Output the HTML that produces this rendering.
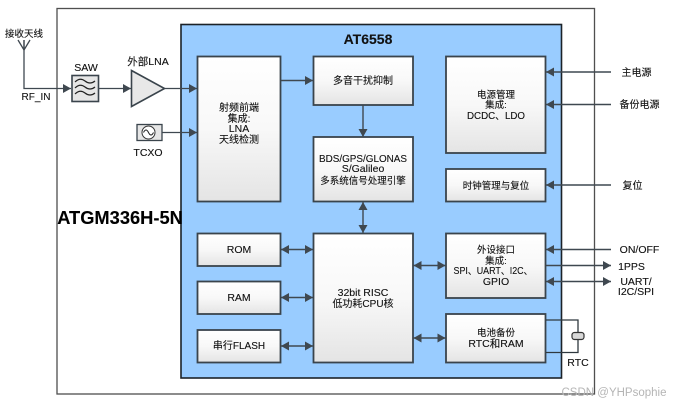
<!DOCTYPE html>
<html><head><meta charset="utf-8">
<style>
html,body{margin:0;padding:0;background:#fff}
svg{display:block}
text{font-family:"Liberation Sans","Noto Sans CJK SC",sans-serif;fill:#111;stroke:#111;stroke-width:.12;font-size:10.5px;text-anchor:middle}
.b{fill:url(#g);stroke:#3a444c;stroke-width:1.8}
.l{stroke:#3f4850;stroke-width:1.4;fill:none}
.t{stroke:#3f4850;stroke-width:1.3;fill:none}
</style></head><body>
<svg width="675" height="405" viewBox="0 0 675 405" xmlns="http://www.w3.org/2000/svg">
<defs>
<linearGradient id="g" x1="0" y1="0" x2="0" y2="1"><stop offset="0" stop-color="#ffffff"/><stop offset=".5" stop-color="#f8f8f8"/><stop offset="1" stop-color="#e4e4e4"/></linearGradient>
<marker id="a" markerWidth="9" markerHeight="9" refX="8" refY="4.500" orient="auto-start-reverse" markerUnits="userSpaceOnUse"><path d="M0 0L8 4.500L0 9z" fill="#3f4850"/></marker>
</defs>
<rect x="57" y="8.500" width="537.500" height="385.500" fill="#fff" stroke="#4f4f4f" stroke-width="1.300"/>
<rect x="181" y="24.500" width="380.500" height="353.500" fill="#99ccff" stroke="#1c2228" stroke-width="1.600"/>

<rect class="b" x="197.500" y="56.500" width="83" height="145"/>
<rect class="b" x="313.500" y="56.500" width="99.500" height="48.500"/>
<rect class="b" x="313.500" y="137" width="99.500" height="64.500"/>
<rect class="b" x="446" y="56.500" width="99.500" height="96.500"/>
<rect class="b" x="446" y="169" width="99.500" height="32.500"/>
<rect class="b" x="446" y="233.500" width="99.500" height="64.500"/>
<rect class="b" x="446" y="314" width="99.500" height="48.500"/>
<rect class="b" x="197.500" y="233.500" width="83" height="32.500"/>
<rect class="b" x="197.500" y="281.500" width="83" height="32.500"/>
<rect class="b" x="197.500" y="330" width="83" height="32.500"/>
<rect class="b" x="313.500" y="233.500" width="99.500" height="129"/>

<!-- antenna -->
<path class="t" d="M24 40L24 88.500L71 88.500" marker-end="url(#a)"/>
<path class="t" d="M18 40L24 50L30 40M24 40L24 50"/>
<!-- SAW -->
<rect x="72" y="75.500" width="26.500" height="26" fill="#e6e6e6" stroke="#3a444c" stroke-width="1.600"/>
<path d="M75 82q5-5 10-1t10 0M75 88q5-5 10-1t10 0M75 94q5-5 10-1t10 0" fill="none" stroke="#222" stroke-width="1.200"/>
<path class="t" d="M98 88.500L131 88.500" marker-end="url(#a)"/>
<!-- LNA -->
<path d="M131.500 70.500L164.500 88.500L131.500 106.500z" fill="#e8e8e8" stroke="#3a444c" stroke-width="1.600"/>
<path class="t" d="M164 88.500L197 88.500" marker-end="url(#a)"/>
<!-- TCXO -->
<rect x="137" y="124.500" width="25" height="16" fill="#e6e6e6" stroke="#3a444c" stroke-width="1.300"/>
<circle cx="148.500" cy="132.500" r="6.500" fill="#fff" stroke="#333"/>
<path d="M143.500 132.500q2.500-5 5 0t5 0" fill="none" stroke="#222"/>
<path class="t" d="M162 132.500L197 132.500" marker-end="url(#a)"/>

<!-- internal -->
<path class="l" d="M281 80.500L313 80.500" marker-end="url(#a)"/>
<path class="l" d="M363 105L363 137" marker-end="url(#a)"/>
<path class="l" d="M363 202L363 233" marker-start="url(#a)" marker-end="url(#a)"/>
<path class="l" d="M281 249.500L313 249.500" marker-start="url(#a)" marker-end="url(#a)"/>
<path class="l" d="M281 297.500L313 297.500" marker-start="url(#a)" marker-end="url(#a)"/>
<path class="l" d="M281 346L313 346" marker-start="url(#a)" marker-end="url(#a)"/>
<path class="l" d="M413.500 265.500L445.500 265.500" marker-start="url(#a)" marker-end="url(#a)"/>
<path class="l" d="M413.500 338L445.500 338" marker-start="url(#a)" marker-end="url(#a)"/>

<!-- right -->
<path class="l" d="M611 72L546 72" marker-end="url(#a)"/>
<path class="l" d="M611 104.500L546 104.500" marker-end="url(#a)"/>
<path class="l" d="M611 185L546 185" marker-end="url(#a)"/>
<path class="l" d="M611 249.500L546 249.500" marker-end="url(#a)"/>
<path class="l" d="M546 265.500L611 265.500" marker-end="url(#a)"/>
<path class="l" d="M546 281.500L611 281.500" marker-start="url(#a)" marker-end="url(#a)"/>
<!-- RTC crystal -->
<path d="M546 320H578V332M578 340V352.500H546" fill="none" stroke="#2f383f" stroke-width="1.300"/>
<rect x="572" y="332.500" width="12" height="7" rx="2.500" fill="#d8d8d8" stroke="#333" stroke-width="1.200"/>

<!-- labels -->
<text x="24" y="37" style="font-size:9.500px">接收天线</text>
<text x="36" y="100" style="font-size:10px">RF_IN</text>
<text x="86" y="71">SAW</text>
<text x="148" y="65">外部LNA</text>
<text x="148" y="156">TCXO</text>
<text x="120" y="224" style="font-size:18.300px;font-weight:bold;fill:#000">ATGM336H-5N</text>
<text x="368" y="44" style="font-size:14px;font-weight:bold">AT6558</text>

<text x="239" y="111" style="font-size:10px">射频前端</text>
<text x="239" y="122" style="font-size:10px">集成:</text>
<text x="239" y="132">LNA</text>
<text x="239" y="143" style="font-size:10px">天线检测</text>
<text x="363" y="84" style="font-size:10px">多音干扰抑制</text>
<text x="363" y="162" textLength="88" lengthAdjust="spacingAndGlyphs">BDS/GPS/GLONAS</text>
<text x="363" y="172">S/Galileo</text>
<text x="363" y="184" style="font-size:9.500px">多系统信号处理引擎</text>
<text x="496" y="98" style="font-size:9.500px">电源管理</text>
<text x="496" y="108" style="font-size:9.500px">集成:</text>
<text x="496" y="119" textLength="58" lengthAdjust="spacingAndGlyphs">DCDC、LDO</text>
<text x="496" y="189" style="font-size:9.500px">时钟管理与复位</text>
<text x="496" y="253" style="font-size:9.500px">外设接口</text>
<text x="496" y="264" style="font-size:9.500px">集成:</text>
<text x="493" y="274" textLength="79" lengthAdjust="spacingAndGlyphs">SPI、UART、I2C、</text>
<text x="496" y="285">GPIO</text>
<text x="496" y="336" style="font-size:9.500px">电池备份</text>
<text x="496" y="347">RTC和RAM</text>
<text x="239" y="253">ROM</text>
<text x="239" y="301">RAM</text>
<text x="239" y="349" style="font-size:10px">串行FLASH</text>
<text x="363" y="296">32bit RISC</text>
<text x="363" y="307" style="font-size:10px">低功耗CPU核</text>

<text x="636.500" y="76" style="font-size:10px">主电源</text>
<text x="639.500" y="108" style="font-size:10px">备份电源</text>
<text x="632.500" y="189" style="font-size:10px">复位</text>
<text x="639.500" y="253">ON/OFF</text>
<text x="631.500" y="270">1PPS</text>
<text x="636" y="285">UART/</text>
<text x="636" y="295">I2C/SPI</text>
<text x="578" y="366">RTC</text>
<text x="614" y="396" style="font-size:11.500px;fill:#b5b5b5;stroke:none">CSDN @YHPsophie</text>
</svg>
</body></html>
